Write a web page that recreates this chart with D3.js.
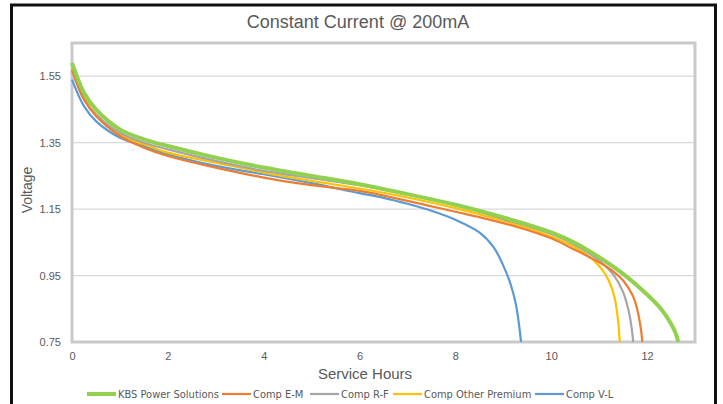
<!DOCTYPE html>
<html>
<head>
<meta charset="utf-8">
<script src="https://cdn.jsdelivr.net/npm/d3@7"></script>
<style>
  body { margin: 0; background: #fff; }
  svg { display: block; font-family: "Liberation Sans", Arial, sans-serif; }
  .tick text { fill: #595959; font-size: 11px; }
</style>
</head>
<body>
<div class="container"></div>
<script>
// chart data
var title = 'Constant Current @ 200mA';
var xTicks = [0, 2, 4, 6, 8, 10, 12];
var yTicks = [0.75, 0.95, 1.15, 1.35, 1.55];
var seriesNames = ['KBS Power Solutions', 'Comp E-M', 'Comp R-F', 'Comp Other Premium', 'Comp V-L'];
var seriesColors = ['#92d050', '#ed7d31', '#a5a5a5', '#ffc000', '#5b9bd5'];

var kbsHours = [0, 0.25, 0.5, 1, 1.5, 2, 3, 4, 5, 6, 7, 8, 9, 9.5, 10, 10.5, 11, 11.5, 12, 12.3, 12.5, 12.6, 12.65];
var kbsVolts = [1.59, 1.5, 1.45, 1.39, 1.36, 1.34, 1.305, 1.275, 1.25, 1.225, 1.195, 1.163, 1.125, 1.104, 1.08, 1.048, 1.005, 0.955, 0.893, 0.848, 0.805, 0.775, 0.75];

var emHours = [0, 0.25, 0.5, 1, 1.5, 2, 3, 4, 5, 6, 7, 8, 8.5, 9, 9.5, 10, 10.5, 11, 11.3, 11.5, 11.7, 11.8, 11.87, 11.9];
var emVolts = [1.57, 1.48, 1.43, 1.37, 1.335, 1.31, 1.275, 1.245, 1.222, 1.205, 1.175, 1.142, 1.126, 1.108, 1.087, 1.062, 1.027, 0.99, 0.962, 0.935, 0.89, 0.845, 0.79, 0.75];

var rfHours = [0, 0.25, 0.5, 1, 1.5, 2, 3, 4, 5, 6, 7, 8, 9, 9.5, 10, 10.5, 11, 11.3, 11.5, 11.62, 11.68, 11.71];
var rfVolts = [1.565, 1.48, 1.435, 1.38, 1.35, 1.33, 1.295, 1.265, 1.243, 1.222, 1.195, 1.163, 1.12, 1.099, 1.075, 1.042, 0.995, 0.952, 0.9, 0.84, 0.79, 0.75];

var opHours = [0, 0.25, 0.5, 1, 1.5, 2, 3, 4, 5, 6, 7, 8, 9, 9.5, 10, 10.5, 10.85, 11.05, 11.2, 11.32, 11.39, 11.43];
var opVolts = [1.575, 1.485, 1.435, 1.375, 1.345, 1.32, 1.29, 1.26, 1.235, 1.212, 1.185, 1.153, 1.115, 1.093, 1.067, 1.035, 1.0, 0.97, 0.935, 0.885, 0.82, 0.75];

var vlHours = [0, 0.25, 0.5, 1, 1.5, 2, 3, 4, 5, 6, 6.5, 7, 7.5, 8, 8.5, 8.8, 9.0, 9.15, 9.26, 9.33, 9.37];
var vlVolts = [1.54, 1.46, 1.415, 1.365, 1.34, 1.315, 1.28, 1.255, 1.228, 1.198, 1.184, 1.166, 1.145, 1.118, 1.08, 1.035, 0.98, 0.925, 0.865, 0.8, 0.75];

var seriesHours = [kbsHours, emHours, rfHours, opHours, vlHours];
var seriesVolts = [kbsVolts, emVolts, rfVolts, opVolts, vlVolts];
var seriesWidths = [4, 2.2, 2.2, 2.2, 2.2];

var width = 723,
  height = 404,
  plotLeft = 72,
  plotRight = 695,
  plotTop = 43,
  plotBottom = 342;

var svg = d3.select('.container').append('svg')
  .attr('width', width)
  .attr('height', height);

// outer frame
svg.append('rect')
  .attr('x', 11.5).attr('y', 5)
  .attr('width', 704).attr('height', 420)
  .attr('fill', 'none')
  .attr('stroke', '#111')
  .attr('stroke-width', 3);

var x = d3.scaleLinear().domain([0, 13]).range([plotLeft, plotRight]);
var y = d3.scaleLinear().domain([0.75, 1.65]).range([plotBottom, plotTop]);

// gridlines
svg.append('g')
  .selectAll('line')
  .data(yTicks.slice(1))
  .enter()
  .append('line')
  .attr('x1', plotLeft).attr('x2', plotRight)
  .attr('y1', function(d) { return y(d); })
  .attr('y2', function(d) { return y(d); })
  .attr('stroke', '#d9d9d9')
  .attr('stroke-width', 1.3);

// axes (labels only, frame drawn separately)
var xAxis = svg.append('g')
  .attr('transform', 'translate(0,' + plotBottom + ')')
  .call(d3.axisBottom(x).tickValues(xTicks).tickSize(0).tickPadding(10).tickFormat(d3.format('d')));
xAxis.select('.domain').remove();

var yAxis = svg.append('g')
  .attr('transform', 'translate(' + plotLeft + ',0)')
  .call(d3.axisLeft(y).tickValues(yTicks).tickSize(0).tickPadding(11).tickFormat(d3.format('.2f')));
yAxis.select('.domain').remove();

// plot frame
svg.append('rect')
  .attr('x', plotLeft).attr('y', plotTop)
  .attr('width', plotRight - plotLeft).attr('height', plotBottom - plotTop)
  .attr('fill', 'none')
  .attr('stroke', '#c9c9c9')
  .attr('stroke-width', 3);

// curves
var line = d3.line()
  .x(function(d) { return x(d[0]); })
  .y(function(d) { return y(d[1]); })
  .curve(d3.curveCatmullRom.alpha(0.5));

var order = [4, 3, 2, 1, 0]; // green drawn last, on top
order.forEach(function(i) {
  var pts = seriesHours[i].map(function(h, k) { return [h, seriesVolts[i][k]]; });
  svg.append('path')
    .datum(pts)
    .attr('d', line)
    .attr('fill', 'none')
    .attr('stroke', seriesColors[i])
    .attr('stroke-width', seriesWidths[i]);
});

// titles
svg.append('text')
  .attr('x', 358).attr('y', 28)
  .attr('text-anchor', 'middle')
  .attr('fill', '#595959')
  .style('font-size', '18px')
  .text(title);

svg.append('text')
  .attr('transform', 'translate(32,190) rotate(-90)')
  .attr('text-anchor', 'middle')
  .attr('fill', '#595959')
  .style('font-size', '14px')
  .text('Voltage');

svg.append('text')
  .attr('x', 365).attr('y', 379)
  .attr('text-anchor', 'middle')
  .attr('fill', '#595959')
  .style('font-size', '15px')
  .text('Service Hours');

// legend
var legendX = [87, 222, 310, 393, 535];
var legend = svg.append('g').attr('transform', 'translate(0,394)');
seriesNames.forEach(function(name, i) {
  legend.append('line')
    .attr('x1', legendX[i]).attr('x2', legendX[i] + 29)
    .attr('y1', 0).attr('y2', 0)
    .attr('stroke', seriesColors[i])
    .attr('stroke-width', seriesWidths[i]);
  legend.append('text')
    .attr('x', legendX[i] + 31).attr('y', 4)
    .attr('fill', '#595959')
    .style('font-size', '11px')
    .style('font-family', '"DejaVu Sans Condensed", "Liberation Sans", sans-serif')
    .style('font-stretch', 'condensed')
    .text(name);
});
</script>
</body>
</html>
